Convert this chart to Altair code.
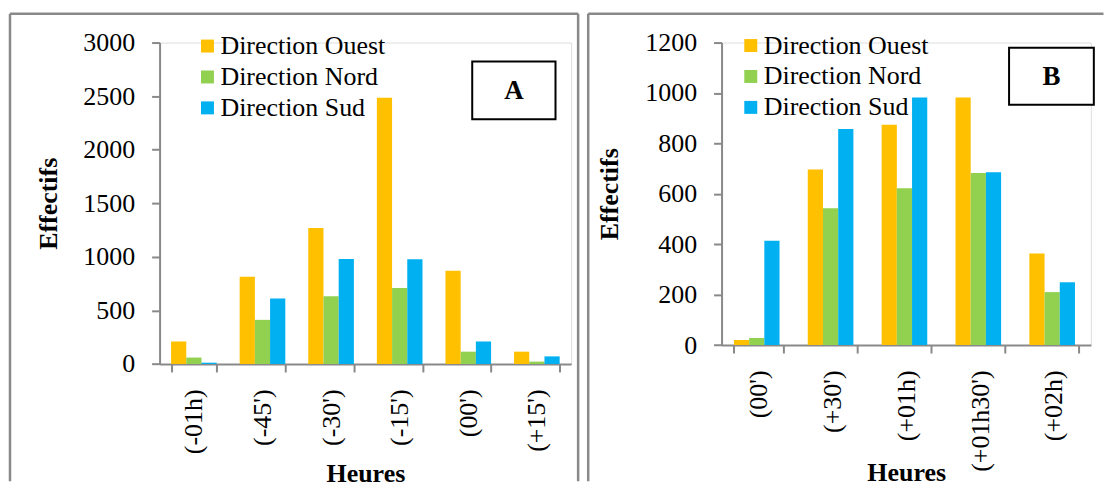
import altair as alt
import pandas as pd

directions = ["Direction Ouest", "Direction Nord", "Direction Sud"]
colors = ["#FFC000", "#92D050", "#00B0F0"]

heures_a = ["(-01h)", "(-45')", "(-30')", "(-15')", "(00')", "(+15')"]
ouest_a = [210, 815, 1270, 2485, 870, 115]
nord_a = [60, 412, 633, 710, 115, 22]
sud_a = [12, 611, 980, 977, 210, 71]

heures_b = ["(00')", "(+30')", "(+01h)", "(+01h30')", "(+02h)"]
ouest_b = [20, 696, 874, 982, 363]
nord_b = [28, 543, 622, 683, 210]
sud_b = [414, 857, 982, 685, 249]

FONT = "Liberation Serif"
GRAY = "#898989"


def long_df(heures, ouest, nord, sud):
    rows = []
    for i, h in enumerate(heures):
        for d, vals in zip(directions, [ouest, nord, sud]):
            rows.append({"heure": h, "direction": d, "effectif": vals[i]})
    return pd.DataFrame(rows)


def panel(heures, ouest, nord, sud, ymax, ystep, W, H, leg_x, leg_y,
          box, letter, ytitle_x, xtitle_y, border_left, border_right, border_top, border_bottom):
    df = long_df(heures, ouest, nord, sud)
    bars = alt.Chart(df).mark_bar().encode(
        x=alt.X("heure:N", sort=heures,
                scale=alt.Scale(paddingInner=0.335, paddingOuter=0.1675),
                axis=alt.Axis(title="Heures", labelAngle=270, tickBand="extent",
                              tickSize=8, tickWidth=2, tickColor=GRAY,
                              domainWidth=2, domainColor=GRAY,
                              labelFont=FONT, labelFontSize=26, labelColor="black",
                              labelPadding=17, labelAlign="right", labelBaseline="middle",
                              titleFont=FONT, titleFontSize=26, titleFontWeight="bold",
                              titleColor="black", titleX=W / 2, titleY=xtitle_y,
                              titleAlign="center", titleBaseline="middle")),
        xOffset=alt.XOffset("direction:N", sort=directions,
                            scale=alt.Scale(paddingInner=0, paddingOuter=0)),
        y=alt.Y("effectif:Q",
                scale=alt.Scale(domain=[0, ymax], nice=False, zero=True),
                axis=alt.Axis(title="Effectifs", values=list(range(0, ymax + 1, ystep)),
                              format="d",
                              grid=False, tickSize=8, tickWidth=2, tickColor=GRAY,
                              domainWidth=2, domainColor=GRAY,
                              labelFont=FONT, labelFontSize=26, labelColor="black",
                              labelPadding=17,
                              titleFont=FONT, titleFontSize=26, titleFontWeight="bold",
                              titleColor="black", titleX=ytitle_x, titleY=H / 2,
                              titleAngle=270, titleAlign="center", titleBaseline="middle")),
        color=alt.Color("direction:N", sort=directions,
                        scale=alt.Scale(domain=directions, range=colors),
                        legend=alt.Legend(title=None, orient="none", legendX=leg_x, legendY=leg_y,
                                          direction="vertical", symbolType="square",
                                          symbolSize=169, symbolStrokeWidth=0, symbolOpacity=1,
                                          labelFont=FONT, labelFontSize=26, labelColor="black",
                                          labelOffset=0, rowPadding=5, padding=0,
                                          labelLimit=0)),
    )

    deco = alt.Data(values=[{"k": 0}])
    layers = []
    # panel frame (gray border)
    layers.append(alt.Chart(deco).mark_rule(color=GRAY, strokeWidth=2.5).encode(
        x=alt.value(border_left), y=alt.value(border_top), y2=alt.value(border_bottom)))
    layers.append(alt.Chart(deco).mark_rule(color=GRAY, strokeWidth=2.5).encode(
        x=alt.value(border_left), x2=alt.value(border_right), y=alt.value(border_top)))
    if letter == "A":
        layers.append(alt.Chart(deco).mark_rule(color=GRAY, strokeWidth=2.5).encode(
            x=alt.value(border_right), y=alt.value(border_top), y2=alt.value(border_bottom)))
    layers.append(bars)
    bx1, bx2, by1, by2 = box
    layers.append(alt.Chart(deco).mark_rect(fill="white", stroke="black", strokeWidth=2).encode(
        x=alt.value(bx1), x2=alt.value(bx2), y=alt.value(by1), y2=alt.value(by2)))
    layers.append(alt.Chart(deco).mark_text(font=FONT, fontSize=27, fontWeight="bold",
                                            color="black", align="center", baseline="middle").encode(
        x=alt.value((bx1 + bx2) / 2), y=alt.value((by1 + by2) / 2 + 1), text=alt.value(letter)))
    return alt.layer(*layers).properties(width=W, height=H)


WA, HA = 412.7, 322.3
WB, HB = 370.3, 303.3

panel_a = panel(heures_a, ouest_a, nord_a, sud_a, 3000, 500, WA, HA,
                leg_x=35, leg_y=-9.5, box=(313.5, 397, 19, 77), letter="A",
                ytitle_x=-111.5, xtitle_y=109.7,
                border_left=-150, border_right=419.7, border_top=-29, border_bottom=440)

panel_b = panel(heures_b, ouest_b, nord_b, sud_b, 1200, 200, WB, HB,
                leg_x=16.3, leg_y=-10, box=(288.3, 373.3, 5.3, 62.3), letter="B",
                ytitle_x=-112, xtitle_y=128,
                border_left=-133.7, border_right=383, border_top=-29, border_bottom=440)

chart = alt.hconcat(panel_a, panel_b, spacing=5.5).resolve_scale(
    color="independent", x="independent", y="independent"
).resolve_legend(color="independent").properties(
    padding={"left": 0, "top": 3, "right": 0, "bottom": 0}
).configure_view(stroke=None).configure(background="white")

chart.save("out.html", embed_options={"renderer": "svg", "actions": False})
